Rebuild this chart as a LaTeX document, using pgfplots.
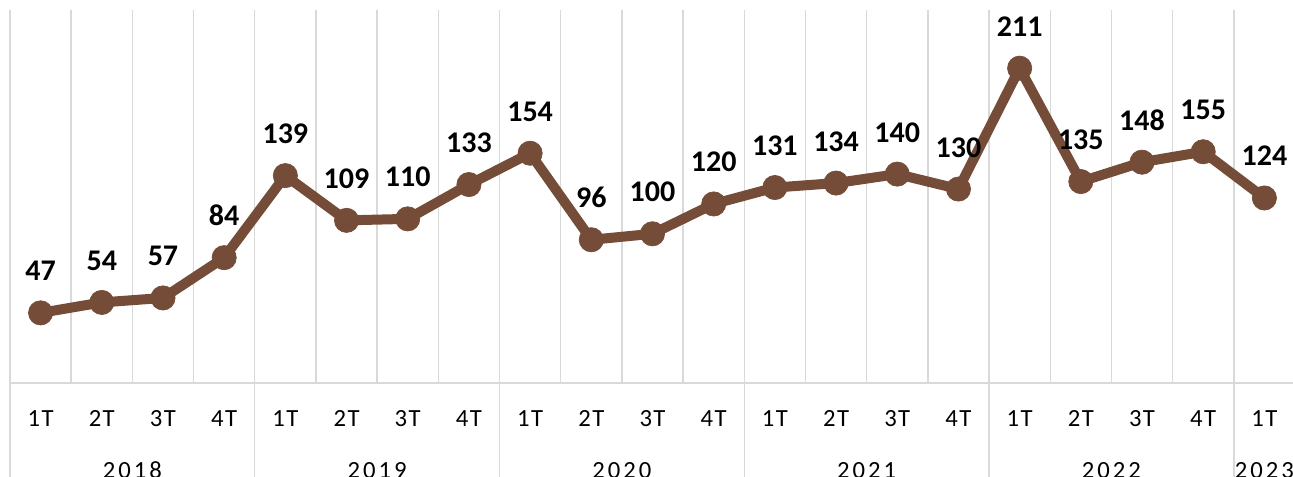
\documentclass[border=0pt]{standalone}
\usepackage{fontspec}
\setmainfont{Carlito}
\usepackage{pgfplots}
\pgfplotsset{compat=1.18}
\definecolor{brn}{RGB}{117,76,56}
\definecolor{grd}{RGB}{217,217,217}
\newfontfamily\tickfont[LetterSpace=6]{Carlito}
\newfontfamily\yearfont[LetterSpace=12]{Carlito}
\begin{document}
\begin{tikzpicture}
\begin{axis}[
  at={(0,0)}, anchor=south west,
  scale only axis, width=963.75pt, height=279.75pt,
  xmin=-0.5, xmax=20.5, ymin=0, ymax=250,
  clip=false,
  axis line style={draw=none},
  ytick=\empty,
  xtick={0,...,20},
  xticklabels={1T,2T,3T,4T,1T,2T,3T,4T,1T,2T,3T,4T,1T,2T,3T,4T,1T,2T,3T,4T,1T},
  minor xtick={-0.5,0.5,...,20.5},
  xminorgrids, minor grid style={grd, line width=1.1pt},
  major tick length=0pt, minor tick length=0pt,
  xticklabel style={font=\tickfont\fontsize{18.5}{22}\selectfont, anchor=base, yshift=-33pt},
  nodes near coords,
  /pgf/number format/assume math mode=true,
  nodes near coords style={font=\bfseries\fontsize{22.5}{27}\selectfont, anchor=base, yshift=24pt, text=black},
]
\draw[grd, line width=1.1pt] (axis cs:-0.5,0) -- (axis cs:20.5,0);
\pgfplotsinvokeforeach{-0.5,3.5,7.5,11.5,15.5,19.5}{
  \draw[grd, line width=1.1pt] (axis cs:#1,0) -- (axis cs:#1,-70);
}
\addplot[brn, line width=7.5pt, line join=round, mark=*, mark size=9.1pt,
  mark options={fill=brn, draw=brn, line width=0.5pt}] coordinates {
(0,47) (1,54) (2,57) (3,84) (4,139) (5,109) (6,110) (7,133) (8,154) (9,96)
(10,100) (11,120) (12,131) (13,134) (14,140) (15,130) (16,211) (17,135) (18,148) (19,155) (20,124)
};
\pgfplotsinvokeforeach{{1.5/2018},{5.5/2019},{9.5/2020},{13.5/2021},{17.5/2022},{20/2023}}{
}
\node[font=\yearfont\fontsize{18.5}{22}\selectfont, anchor=base, yshift=-72pt] at (axis cs:1.5,0) {2018};
\node[font=\yearfont\fontsize{18.5}{22}\selectfont, anchor=base, yshift=-72pt] at (axis cs:5.5,0) {2019};
\node[font=\yearfont\fontsize{18.5}{22}\selectfont, anchor=base, yshift=-72pt] at (axis cs:9.5,0) {2020};
\node[font=\yearfont\fontsize{18.5}{22}\selectfont, anchor=base, yshift=-72pt] at (axis cs:13.5,0) {2021};
\node[font=\yearfont\fontsize{18.5}{22}\selectfont, anchor=base, yshift=-72pt] at (axis cs:17.5,0) {2022};
\node[font=\yearfont\fontsize{18.5}{22}\selectfont, anchor=base, yshift=-72pt] at (axis cs:20,0) {2023};
\end{axis}
\pgfresetboundingbox
\path[use as bounding box] (-7.5pt,-70.5pt) rectangle (962.25pt,287.25pt);
\end{tikzpicture}
\end{document}
